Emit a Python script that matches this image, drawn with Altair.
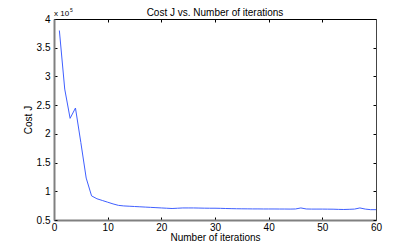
import altair as alt
import pandas as pd

iterations = list(range(1, 61))
cost = [
    380000, 278000, 227000, 245000, 185000, 123000, 92000, 87000, 84000, 81000,
    78000, 75500, 74500, 74000, 73500, 73000, 72500, 72000, 71500, 71000,
    70500, 70000, 70500, 71000, 71000, 71000, 70800, 70600, 70500, 70500,
    70300, 70000, 69800, 69600, 69500, 69400, 69300, 69300, 69200, 69200,
    69200, 69100, 69100, 69000, 69200, 71000, 69200, 69000, 69000, 69000,
    68900, 68800, 68500, 68300, 68600, 69000, 71000, 69000, 68000, 68000,
]
x_ticks = [0, 10, 20, 30, 40, 50, 60]
y_ticks = [50000, 100000, 150000, 200000, 250000, 300000, 350000, 400000]

df = pd.DataFrame({"iter": iterations, "cost": cost})
FONT = "Liberation Sans"

xscale = alt.Scale(domain=[0, 60], nice=False, zero=False)
yscale = alt.Scale(domain=[50000, 400000], nice=False, zero=False)

base = alt.Chart(df)

main = base.mark_line(color="#3f5fff", strokeWidth=1).encode(
    x=alt.X("iter:Q", scale=xscale, title="Number of iterations",
            axis=alt.Axis(orient="bottom", values=x_ticks, grid=False,
                          tickSize=alt.ExprRef("-3"), tickColor="black",
                          domainColor="#808080", domainWidth=2,
                          labelPadding=5, labelFontSize=10, labelFont=FONT,
                          labelColor="black", titleFont=FONT, titleFontSize=10,
                          titleFontWeight="normal", titleColor="black",
                          titleBaseline="alphabetic", titleY=20,
                          labelFlush=False)),
    y=alt.Y("cost:Q", scale=yscale, title="Cost J",
            axis=alt.Axis(orient="left", values=y_ticks, grid=False,
                          labelExpr="toString(datum.value / 100000)",
                          tickSize=alt.ExprRef("-3"), tickColor="black",
                          domainColor="#808080", domainWidth=2,
                          labelPadding=7, labelFontSize=10, labelFont=FONT,
                          labelColor="black", titleFont=FONT, titleFontSize=10,
                          titleFontWeight="normal", titleColor="black",
                          titlePadding=3, labelFlush=False)),
)

frame = base.mark_line(opacity=0).encode(
    x=alt.X("iter:Q", scale=xscale, title=None,
            axis=alt.Axis(orient="top", values=x_ticks, grid=False, labels=False,
                          tickSize=alt.ExprRef("-3"), tickColor="black",
                          domainColor="black", domainWidth=1)),
    y=alt.Y("cost:Q", scale=yscale, title=None,
            axis=alt.Axis(orient="right", values=y_ticks, grid=False, labels=False,
                          tickSize=alt.ExprRef("-3"), tickColor="black",
                          domainColor="#444444", domainWidth=1)),
)

exp_base = alt.Chart(pd.DataFrame({"t": ["x 10"]})).mark_text(
    font=FONT, fontSize=8, align="left", baseline="alphabetic", color="black"
).encode(x=alt.value(0), y=alt.value(-3), text="t:N")

exp_sup = alt.Chart(pd.DataFrame({"t": ["5"]})).mark_text(
    font=FONT, fontSize=5, align="left", baseline="alphabetic", color="black"
).encode(x=alt.value(16), y=alt.value(-7), text="t:N")

chart = alt.layer(main, frame, exp_base, exp_sup).resolve_axis(
    x="independent", y="independent"
).properties(
    width=322, height=201,
    title=alt.TitleParams("Cost J vs. Number of iterations", font=FONT,
                          fontSize=10, fontWeight="normal", color="black",
                          frame="group", offset=6, dy=16),
    autosize=alt.AutoSizeParams(type="none"),
    padding={"left": 46, "top": 11, "right": 31, "bottom": 21},
).configure_view(strokeWidth=0)

chart.save("out.html", embed_options={"renderer": "svg", "actions": False})
